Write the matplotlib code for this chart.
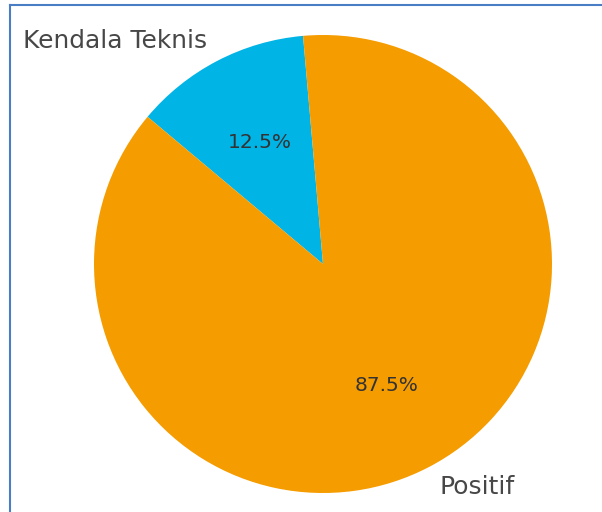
import matplotlib
matplotlib.use("Agg")
import matplotlib.pyplot as plt
from matplotlib.lines import Line2D

labels = ["Kendala Teknis", "Positif"]
values = [12.5, 87.5]
colors = ["#00B4E6", "#F59C00"]

W, H = 602, 512
fig = plt.figure(figsize=(W / 100, H / 100), dpi=100)
fig.patch.set_facecolor("white")
ax = fig.add_axes([0, 0, 1, 1])

wedges, texts, autotexts = ax.pie(
    values, labels=labels, colors=colors, startangle=95,
    autopct="%1.1f%%", labeldistance=1.1, pctdistance=0.6,
    textprops={"fontsize": 17.9, "color": "#474747"},
)
for t in autotexts:
    t.set_fontsize(14.5)
    t.set_color("#333333")

# pixel geometry of pie: centre (323, 264 from top), radius 229
r = 229.0
cx, cy = 323.0, 264.0
ax.set_xlim(-cx / r, (W - cx) / r)
ax.set_ylim(-(H - cy) / r, cy / r)
ax.set_aspect("auto")
ax.axis("off")

# page border lines (left and top)
border = "#4A7EC4"
fig.add_artist(Line2D([9.5 / W, 9.5 / W], [0, 1 - 4.5 / H], transform=fig.transFigure,
                      color=border, linewidth=1.5))
fig.add_artist(Line2D([9.5 / W, 1], [1 - 4.5 / H, 1 - 4.5 / H], transform=fig.transFigure,
                      color=border, linewidth=1.5))

fig.savefig("out.png", dpi=100)
